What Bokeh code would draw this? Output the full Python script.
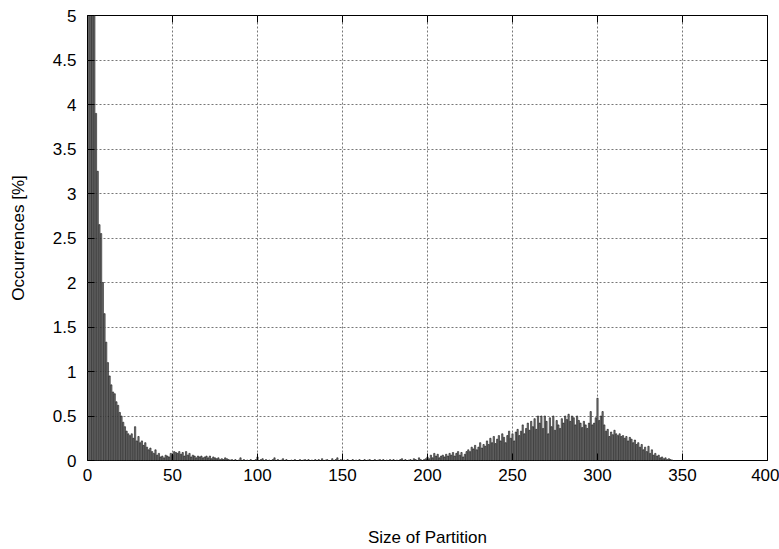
from bokeh.plotting import figure
from bokeh.models import Range1d, LinearAxis, ColumnDataSource
from bokeh.embed import file_html
from bokeh.resources import INLINE

# Partition sizes 1..344 and their occurrence percentages
head = [14.0, 10.0, 7.5, 5.8, 3.9, 3.25, 2.65, 2.55, 2.0, 1.65,
        1.33, 1.1, 0.95, 0.85, 0.77, 0.75, 0.66, 0.62, 0.54, 0.5,
        0.43, 0.38, 0.33, 0.3, 0.28, 0.3, 0.25, 0.38, 0.22, 0.27,
        0.2, 0.22, 0.17, 0.2, 0.15, 0.12, 0.14, 0.1, 0.08, 0.12,
        0.06, 0.08, 0.04, 0.05, 0.03, 0.06, 0.05, 0.04, 0.08, 0.06,
        0.1, 0.09, 0.08, 0.1, 0.07, 0.09, 0.05, 0.1, 0.06, 0.08,
        0.04, 0.06, 0.05, 0.03, 0.05, 0.04, 0.05, 0.03, 0.04, 0.05,
        0.03, 0.05, 0.02, 0.04, 0.03, 0.02, 0.03, 0.01, 0.02, 0.01,
        0.03, 0.02, 0.01, 0.005]
middle = [0.01, 0.0, 0.01, 0.0, 0.005, 0.03, 0.0, 0.01, 0.0, 0.005,
          0.0, 0.01, 0.0, 0.0, 0.01, 0.04, 0.0, 0.01, 0.02, 0.0,
          0.01, 0.0, 0.005, 0.0, 0.01, 0.03, 0.0, 0.01, 0.0, 0.005,
          0.02, 0.0, 0.01, 0.0, 0.0, 0.005, 0.0, 0.01, 0.0, 0.0,
          0.01, 0.0, 0.005, 0.01, 0.0, 0.01, 0.0, 0.005, 0.0, 0.01,
          0.0, 0.01, 0.0, 0.02, 0.0, 0.005, 0.01, 0.0, 0.0, 0.02,
          0.0, 0.01, 0.03, 0.0, 0.01, 0.0, 0.005, 0.0, 0.01, 0.0,
          0.0, 0.01, 0.0, 0.005, 0.0, 0.01, 0.0, 0.0, 0.01, 0.0,
          0.005, 0.01, 0.0, 0.0, 0.01, 0.0, 0.005, 0.01, 0.0, 0.01,
          0.0, 0.005, 0.0, 0.01, 0.0, 0.01, 0.0, 0.005, 0.0, 0.01,
          0.02, 0.0, 0.01, 0.0, 0.005, 0.01, 0.0, 0.02, 0.01, 0.0,
          0.03, 0.01, 0.0, 0.01, 0.02]
bump = [0.04, 0.02, 0.06, 0.03, 0.08, 0.05, 0.07, 0.03, 0.05, 0.06,
        0.04, 0.07, 0.05, 0.08, 0.06, 0.09, 0.05, 0.08, 0.1, 0.06,
        0.09, 0.04, 0.07, 0.1, 0.12, 0.1, 0.15, 0.13, 0.17, 0.12,
        0.15, 0.2, 0.14, 0.18, 0.16, 0.22, 0.18, 0.25, 0.2, 0.27,
        0.19, 0.24, 0.28, 0.22, 0.3, 0.26, 0.2, 0.28, 0.33, 0.25,
        0.3, 0.22, 0.32, 0.35, 0.28, 0.33, 0.4, 0.3, 0.36, 0.42,
        0.34, 0.44, 0.38, 0.47, 0.35, 0.5, 0.42, 0.5, 0.36, 0.5,
        0.44, 0.3, 0.48, 0.38, 0.5, 0.34, 0.45, 0.4, 0.36, 0.47,
        0.42, 0.5, 0.46, 0.52, 0.44, 0.5, 0.48, 0.4, 0.5, 0.45,
        0.42, 0.37, 0.44, 0.4, 0.36, 0.42, 0.55, 0.4, 0.42, 0.48,
        0.7, 0.45, 0.5, 0.55, 0.4, 0.33, 0.35, 0.27, 0.32, 0.29,
        0.34, 0.3, 0.28, 0.3, 0.27, 0.28, 0.25, 0.27, 0.22, 0.26,
        0.24, 0.2, 0.23, 0.18, 0.2, 0.15, 0.18, 0.12, 0.15, 0.1,
        0.16, 0.08, 0.12, 0.06, 0.08, 0.05, 0.06, 0.03, 0.04, 0.02,
        0.03, 0.01, 0.02, 0.01, 0.005]
values = head + middle + bump
sizes = list(range(1, len(values) + 1))

x_ticks = [0, 50, 100, 150, 200, 250, 300, 350, 400]
y_ticks = [0, 0.5, 1, 1.5, 2, 2.5, 3, 3.5, 4, 4.5, 5]
y_labels = ["0", "0.5", "1", "1.5", "2", "2.5", "3", "3.5", "4", "4.5", "5"]

FONT = "Liberation Sans"

p = figure(width=779, height=549, output_backend="svg", toolbar_location=None,
           x_range=Range1d(0, 400), y_range=Range1d(0, 5),
           min_border_left=87, min_border_right=12, min_border_top=15,
           min_border_bottom=89)

src = ColumnDataSource(dict(x=sizes, top=values))
p.vbar(x="x", top="top", width=0.75, bottom=0, source=src,
       fill_color="#8a8a8a", line_color="#111111", line_width=0.6)

p.outline_line_color = "black"
p.outline_line_width = 1
p.outline_line_alpha = 1

for g in (p.xgrid[0], p.ygrid[0]):
    g.grid_line_color = "#777777"
    g.grid_line_dash = "2 2"
    g.grid_line_width = 1

p.xaxis.ticker = x_ticks
p.yaxis.ticker = y_ticks
p.xgrid.ticker = x_ticks
p.ygrid.ticker = y_ticks
p.yaxis.major_label_overrides = {t: l for t, l in zip(y_ticks, y_labels)}

for ax in (p.xaxis[0], p.yaxis[0]):
    ax.axis_line_color = None
    ax.major_tick_in = 7
    ax.major_tick_out = 0
    ax.minor_tick_line_color = None
    ax.major_tick_line_color = "black"
    ax.major_label_text_font = FONT
    ax.major_label_text_font_size = "17px"
    ax.major_label_text_color = "black"
    ax.axis_label_text_font = FONT
    ax.axis_label_text_font_size = "17px"
    ax.axis_label_text_font_style = "normal"
    ax.axis_label_text_color = "black"

p.xaxis.axis_label = "Size of Partition"
p.yaxis.axis_label = "Occurrences [%]"
p.xaxis.major_label_standoff = 8
p.yaxis.major_label_standoff = 11
p.xaxis.axis_label_standoff = 44
p.yaxis.axis_label_standoff = 22

top_ax = LinearAxis(ticker=x_ticks, axis_line_color=None, major_tick_in=7,
                    major_tick_out=0, minor_tick_line_color=None,
                    major_label_standoff=0,
                    major_label_overrides={t: "" for t in x_ticks})
right_ax = LinearAxis(ticker=y_ticks, axis_line_color=None, major_tick_in=7,
                      major_tick_out=0, minor_tick_line_color=None,
                      major_label_standoff=0,
                      major_label_overrides={t: "" for t in y_ticks})
p.add_layout(top_ax, "above")
p.add_layout(right_ax, "right")

open("out.html", "w").write(file_html(p, INLINE))
